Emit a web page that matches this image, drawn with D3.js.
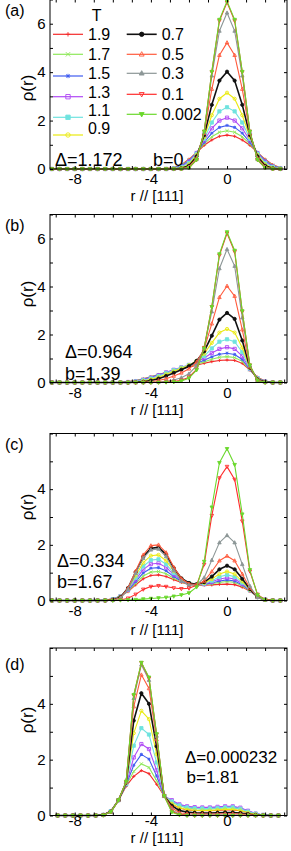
<!DOCTYPE html>
<html>
<head>
<meta charset="utf-8">
<script src="https://cdn.jsdelivr.net/npm/d3@7"></script>
<style>
  body { margin: 0; background: #fff; }
  svg { display: block; }
  text { font-family: "Liberation Sans", Arial, sans-serif; fill: #000; }
</style>
</head>
<body>
<div id="chart"></div>
<script>
// temperatures in the legend, in drawing order
const temps = ["1.9", "1.7", "1.5", "1.3", "1.1", "0.9", "0.7", "0.5", "0.3", "0.1", "0.002"];
const colors = ["#f42a2a", "#8ee85a", "#3f5cf0", "#b04af5", "#6fe3df", "#eaea10", "#111111", "#ff5a3c", "#8c9696", "#ff2b2b", "#6ad82c"];
const markers = ["plus", "cross", "star", "squareOpen", "square", "circleOpen", "circle", "triUpOpen", "triUp", "triDownOpen", "triDown"];

// r // [111] sample points
const rGridABC = [-9.2, -8.8, -8.4, -8.0, -7.6, -7.2, -6.8, -6.4, -6.0, -5.6, -5.2, -4.8, -4.4, -4.0, -3.6, -3.2, -2.8, -2.4, -2.0, -1.6, -1.2, -0.8, -0.4, 0, 0.4, 0.8, 1.2, 1.6, 2.0, 2.4, 2.8];
const rGridD = [-8.9, -8.5, -8.1, -7.7, -7.3, -6.9, -6.5, -6.1, -5.7, -5.3, -4.9, -4.5, -4.1, -3.7, -3.3, -2.9, -2.5, -2.1, -1.7, -1.3, -0.9, -0.5, -0.1, 0.3, 0.7, 1.1, 1.5, 1.9, 2.3, 2.7];

// rho(r), one row per temperature
const rhoA = [
  [0,0,0,0,0,0,0,0,0,0,0,0,0,0, 0,.02,.06,.18,.40,.68,.98,1.20,1.35,1.40,1.35,1.20,.98,.68,.40,.18,.06],
  [0,0,0,0,0,0,0,0,0,0,0,0,0,0, 0,.01,.05,.15,.37,.68,1.04,1.33,1.52,1.58,1.52,1.33,1.04,.68,.37,.15,.05],
  [0,0,0,0,0,0,0,0,0,0,0,0,0,0, 0,.01,.04,.13,.34,.68,1.10,1.48,1.72,1.80,1.72,1.48,1.10,.68,.34,.13,.04],
  [0,0,0,0,0,0,0,0,0,0,0,0,0,0, 0,0,.03,.10,.30,.66,1.18,1.68,2.00,2.12,2.00,1.68,1.18,.66,.30,.10,.03],
  [0,0,0,0,0,0,0,0,0,0,0,0,0,0, 0,0,.02,.08,.25,.63,1.25,1.92,2.38,2.55,2.38,1.92,1.25,.63,.25,.08,.02],
  [0,0,0,0,0,0,0,0,0,0,0,0,0,0, 0,0,.01,.05,.19,.58,1.32,2.22,2.90,3.15,2.90,2.22,1.32,.58,.19,.05,.01],
  [0,0,0,0,0,0,0,0,0,0,0,0,0,0, 0,0,0,.03,.13,.52,1.40,2.65,3.65,4.02,3.65,2.65,1.40,.52,.13,.03,0],
  [0,0,0,0,0,0,0,0,0,0,0,0,0,0, 0,0,0,.01,.09,.45,1.48,3.30,4.70,5.22,4.70,3.30,1.48,.45,.09,.01,0],
  [0,0,0,0,0,0,0,0,0,0,0,0,0,0, 0,0,0,.01,.06,.40,1.52,3.85,5.70,6.45,5.70,3.85,1.52,.40,.06,.01,0],
  [0,0,0,0,0,0,0,0,0,0,0,0,0,0, 0,0,0,0,.05,.38,1.55,4.00,6.12,6.88,6.12,4.00,1.55,.38,.05,0,0],
  [0,0,0,0,0,0,0,0,0,0,0,0,0,0, 0,0,0,0,.05,.38,1.55,4.02,6.17,6.93,6.17,4.02,1.55,.38,.05,0,0]
];

const rhoB = [
  [0,0,0,0,0,0,0,0,0,0, .04,.08,.15,.24,.33,.42,.50,.57,.64,.72,.80,.87,.92,.94,.92,.80,.52,.22,.06,.01,0],
  [0,0,0,0,0,0,0,0,0,0, .03,.07,.14,.23,.33,.42,.51,.59,.67,.76,.86,.97,1.05,1.08,1.04,.88,.53,.20,.05,.01,0],
  [0,0,0,0,0,0,0,0,0,0, .02,.06,.13,.22,.32,.42,.52,.61,.70,.80,.93,1.07,1.18,1.22,1.17,.96,.54,.19,.04,.01,0],
  [0,0,0,0,0,0,0,0,0,0, .02,.05,.11,.20,.30,.42,.53,.63,.73,.85,1.02,1.23,1.40,1.47,1.40,1.10,.56,.18,.04,0,0],
  [0,0,0,0,0,0,0,0,0,0, .01,.04,.09,.17,.27,.39,.51,.62,.73,.88,1.10,1.42,1.70,1.80,1.70,1.26,.58,.17,.03,0,0],
  [0,0,0,0,0,0,0,0,0,0, 0,.02,.06,.13,.22,.34,.47,.59,.72,.90,1.20,1.65,2.08,2.23,2.08,1.45,.60,.15,.02,0,0],
  [0,0,0,0,0,0,0,0,0,0, 0,.01,.03,.08,.16,.27,.40,.53,.68,.90,1.30,1.95,2.62,2.90,2.65,1.75,.62,.13,.02,0,0],
  [0,0,0,0,0,0,0,0,0,0, 0,0,.01,.03,.08,.16,.27,.40,.57,.85,1.40,2.45,3.55,4.02,3.60,2.20,.65,.11,.01,0,0],
  [0,0,0,0,0,0,0,0,0,0, 0,0,0,.01,.02,.05,.10,.20,.36,.70,1.45,2.95,4.75,5.55,4.85,2.70,.70,.09,.01,0,0],
  [0,0,0,0,0,0,0,0,0,0, 0,0,0,0,.01,.02,.04,.09,.22,.55,1.45,3.15,5.30,6.22,5.45,2.95,.72,.08,0,0,0],
  [0,0,0,0,0,0,0,0,0,0, 0,0,0,0,0,.01,.02,.06,.18,.52,1.42,3.15,5.35,6.27,5.50,2.98,.72,.08,0,0,0]
];

const rhoC = [
  [0,0,0,0,0,0,0, .02,.06,.15,.32,.56,.78,.90,.92,.86,.75,.65,.58,.55,.55,.56,.58,.59,.57,.48,.33,.15,.05,.01,0],
  [0,0,0,0,0,0,0, .02,.06,.15,.34,.62,.88,1.02,1.04,.96,.80,.67,.59,.56,.57,.60,.65,.68,.65,.53,.35,.15,.04,.01,0],
  [0,0,0,0,0,0,0, .02,.05,.15,.36,.68,.99,1.16,1.18,1.07,.86,.69,.60,.57,.58,.63,.70,.74,.70,.56,.36,.14,.04,.01,0],
  [0,0,0,0,0,0,0, .01,.05,.15,.38,.75,1.12,1.31,1.34,1.19,.93,.72,.61,.57,.59,.67,.77,.82,.77,.60,.37,.14,.03,0,0],
  [0,0,0,0,0,0,0, .01,.04,.14,.40,.82,1.23,1.45,1.48,1.30,.99,.74,.62,.58,.61,.71,.85,.92,.85,.64,.38,.13,.03,0,0],
  [0,0,0,0,0,0,0, .01,.03,.13,.42,.90,1.36,1.61,1.64,1.43,1.06,.77,.63,.58,.63,.77,.95,1.04,.95,.69,.39,.13,.02,0,0],
  [0,0,0,0,0,0,0, 0,.02,.12,.45,1.02,1.57,1.88,1.91,1.65,1.17,.80,.63,.58,.66,.86,1.12,1.25,1.12,.78,.41,.12,.02,0,0],
  [0,0,0,0,0,0,0, 0,.02,.10,.45,1.06,1.64,1.97,2.00,1.72,1.20,.79,.60,.56,.70,1.04,1.43,1.60,1.43,.95,.45,.12,.02,0,0],
  [0,0,0,0,0,0,0, 0,.01,.08,.40,.98,1.52,1.82,1.85,1.58,1.08,.70,.55,.56,.82,1.45,2.08,2.34,2.08,1.30,.52,.11,.01,0,0],
  [0,0,0,0,0,0,0, 0,.01,.02,.08,.22,.40,.50,.53,.50,.45,.42,.44,.55,1.30,3.05,4.40,4.81,4.35,2.85,1.05,.22,.03,0,0],
  [0,0,0,0,0,0,0, 0,0,.01,.02,.03,.05,.07,.09,.11,.15,.20,.27,.48,1.40,3.35,4.95,5.45,4.88,3.10,1.10,.20,.02,0,0]
];

const rhoD = [
  [0,0,0,0,0,0, .03,.17,.55,1.05,1.40,1.61,1.50,1.12,.70, .40,.27,.20,.18,.17,.17,.18,.20,.20,.17,.11,.05,.02,0, 0],
  [0,0,0,0,0,0, .03,.16,.55,1.08,1.58,1.85,1.72,1.25,.70, .48,.34,.27,.24,.23,.23,.25,.27,.27,.23,.14,.06,.02,0, 0],
  [0,0,0,0,0,0, .02,.16,.55,1.10,1.80,2.19,2.02,1.42,.70, .52,.38,.31,.28,.27,.27,.29,.31,.31,.26,.16,.07,.02,0, 0],
  [0,0,0,0,0,0, .02,.15,.55,1.12,2.08,2.56,2.38,1.62,.70, .55,.40,.33,.30,.29,.29,.31,.33,.33,.28,.17,.07,.02,0, 0],
  [0,0,0,0,0,0, .02,.15,.55,1.14,2.50,3.13,2.90,1.90,.70, .50,.36,.29,.26,.25,.25,.27,.29,.29,.24,.14,.06,.02,0, 0],
  [0,0,0,0,0,0, .02,.14,.55,1.16,2.95,3.75,3.45,2.20,.70, .42,.28,.21,.19,.18,.18,.20,.22,.22,.18,.10,.04,.01,0, 0],
  [0,0,0,0,0,0, .02,.14,.55,1.18,3.40,4.38,4.00,2.48,.70, .35,.18,.12,.10,.09,.09,.10,.11,.11,.09,.05,.02,0,0, 0],
  [0,0,0,0,0,0, .01,.13,.55,1.20,3.90,5.04,4.55,2.72,.70, .28,.10,.06,.05,.05,.05,.05,.06,.06,.05,.03,.01,0,0, 0],
  [0,0,0,0,0,0, .01,.13,.55,1.20,4.20,5.40,4.85,2.85,.70, .20,.05,.02,.02,.02,.02,.02,.02,.02,.02,.01,0,0,0, 0],
  [0,0,0,0,0,0, .01,.13,.55,1.21,4.30,5.47,4.92,2.90,.70, .15,.03,.01,0,0,0,0,0,0,0,0,0,0,0, 0],
  [0,0,0,0,0,0, .01,.13,.55,1.22,4.32,5.48,4.95,2.92,.70, .12,.02,0,0,0,0,0,0,0,0,0,0,0,0, 0]
];

const xTickLabels = [-8, -4, 0];

const panels = [
  { tag: "(a)", top: -0.5, bottom: 169, yMax: 7, yLabels: [0, 2, 4, 6], r: rGridABC, rho: rhoA,
    tagY: 16, yLabY: 88, xPad: 4, xLabY: 200.5,
    notes: [{ t: "Δ=1.172", x: 55, y: 166, fs: 18 }, { t: "b=0", x: 153, y: 166, fs: 18 }] },
  { tag: "(b)", top: 214.5, bottom: 382.5, yMax: 7, yLabels: [0, 2, 4, 6], r: rGridABC, rho: rhoB,
    tagY: 231, yLabY: 294, xPad: 5, xLabY: 415,
    notes: [{ t: "Δ=0.964", x: 65, y: 358, fs: 18 }, { t: "b=1.39", x: 65, y: 380, fs: 18 }] },
  { tag: "(c)", top: 433.5, bottom: 600.5, yMax: 6, yLabels: [0, 2, 4], r: rGridABC, rho: rhoC,
    tagY: 450, yLabY: 507, xPad: 5, xLabY: 634.5,
    notes: [{ t: "Δ=0.334", x: 57, y: 566.5, fs: 18 }, { t: "b=1.67", x: 57, y: 588, fs: 18 }] },
  { tag: "(d)", top: 648, bottom: 815.5, yMax: 6, yLabels: [0, 2, 4], r: rGridD, rho: rhoD,
    tagY: 670, yLabY: 720, xPad: 0, xLabY: 842.5,
    notes: [{ t: "Δ=0.000232", x: 185, y: 763, fs: 17 }, { t: "b=1.81", x: 186.5, y: 783, fs: 17 }] }
];

const width = 291;
const height = 851;
const font = '"Liberation Sans", Arial, sans-serif';

const svg = d3.select("#chart").append("svg")
  .attr("width", width)
  .attr("height", height);

const x = d3.scaleLinear().domain([-9.3, 3.15]).range([50, 287]);

function drawMarker(g, type, cx, cy, s, color) {
  let d, filled = false;
  const k = 0.75 * s;
  switch (type) {
    case "plus": d = `M${-s},0H${s}M0,${-s}V${s}`; break;
    case "cross": d = `M${-s},${-s}L${s},${s}M${-s},${s}L${s},${-s}`; break;
    case "star": d = `M${-s},0H${s}M0,${-s}V${s}M${-k},${-k}L${k},${k}M${-k},${k}L${k},${-k}`; break;
    case "squareOpen": d = `M${-s},${-s}H${s}V${s}H${-s}Z`; break;
    case "square": d = `M${-s},${-s}H${s}V${s}H${-s}Z`; filled = true; break;
    case "circleOpen": d = `M${s},0A${s},${s} 0 1,1 ${-s},0A${s},${s} 0 1,1 ${s},0Z`; break;
    case "circle": d = `M${s},0A${s},${s} 0 1,1 ${-s},0A${s},${s} 0 1,1 ${s},0Z`; filled = true; break;
    case "triUpOpen": d = `M0,${-1.2 * s}L${1.1 * s},${0.8 * s}L${-1.1 * s},${0.8 * s}Z`; break;
    case "triUp": d = `M0,${-1.2 * s}L${1.1 * s},${0.8 * s}L${-1.1 * s},${0.8 * s}Z`; filled = true; break;
    case "triDownOpen": d = `M0,${1.2 * s}L${1.1 * s},${-0.8 * s}L${-1.1 * s},${-0.8 * s}Z`; break;
    default: d = `M0,${1.2 * s}L${1.1 * s},${-0.8 * s}L${-1.1 * s},${-0.8 * s}Z`; filled = true;
  }
  g.append("path")
    .attr("transform", `translate(${cx},${cy})`)
    .attr("d", d)
    .attr("fill", filled ? color : "none")
    .attr("stroke", color)
    .attr("stroke-width", 0.9);
}

panels.forEach(p => {
  const y = d3.scaleLinear().domain([0, p.yMax]).range([p.bottom, p.top]);
  const g = svg.append("g");

  const line = d3.line()
    .x(d => x(d[0]))
    .y(d => y(d[1]));

  p.rho.forEach((vals, si) => {
    const pts = vals.map((v, i) => [p.r[i], v]);
    g.append("path")
      .datum(pts)
      .attr("d", line)
      .attr("fill", "none")
      .attr("stroke", colors[si])
      .attr("stroke-width", si === 6 ? 1.6 : 1.1)
      .attr("stroke-linejoin", "round");
    pts.forEach(d => drawMarker(g, markers[si], x(d[0]), y(d[1]), 1.6, colors[si]));
  });

  // frame
  g.append("rect")
    .attr("x", 50).attr("y", p.top)
    .attr("width", 237).attr("height", p.bottom - p.top)
    .attr("fill", "none").attr("stroke", "#000").attr("stroke-width", 1);

  const xTicks = d3.range(-9, 4);
  const yTicks = d3.range(0, p.yMax + 1);

  const bottomAxis = g.append("g")
    .attr("transform", `translate(0,${p.bottom})`)
    .call(d3.axisBottom(x).tickValues(xTicks).tickSizeInner(-3).tickSizeOuter(0).tickPadding(p.xPad)
      .tickFormat(d => xTickLabels.includes(d) ? d : ""));
  g.append("g")
    .attr("transform", `translate(0,${p.top})`)
    .call(d3.axisTop(x).tickValues(xTicks).tickSizeInner(-3).tickSizeOuter(0).tickFormat(""));
  const leftAxis = g.append("g")
    .attr("transform", "translate(50,0)")
    .call(d3.axisLeft(y).tickValues(yTicks).tickSizeInner(-3).tickSizeOuter(0).tickPadding(4.5)
      .tickFormat(d => p.yLabels.includes(d) ? d : ""));
  g.append("g")
    .attr("transform", "translate(287,0)")
    .call(d3.axisRight(y).tickValues(yTicks).tickSizeInner(-3).tickSizeOuter(0).tickFormat(""));

  g.selectAll(".domain").remove();
  g.selectAll(".tick line").attr("stroke", "#000");
  [bottomAxis, leftAxis].forEach(a => a.attr("font-size", 15).attr("font-family", font));
  g.selectAll(".tick text").attr("fill", "#000");

  g.append("text")
    .attr("x", 5).attr("y", p.tagY)
    .attr("font-size", 16)
    .text(p.tag);

  g.append("text")
    .attr("transform", `translate(33,${p.yLabY}) rotate(-90)`)
    .attr("text-anchor", "middle")
    .attr("font-size", 17)
    .text("ρ(r)");

  g.append("text")
    .attr("x", 157).attr("y", p.xLabY)
    .attr("text-anchor", "middle")
    .attr("font-size", 15)
    .text("r // [111]");

  p.notes.forEach(n => {
    g.append("text")
      .attr("x", n.x).attr("y", n.y)
      .attr("font-size", n.fs)
      .text(n.t);
  });
});

// legend, inside panel (a)
const legendRows = [
  { line: 34.3, text: 34.3, x1: 53, x2: 83, tx: 88 },
  { line: 54.3, text: 54.3, x1: 53, x2: 83, tx: 88 },
  { line: 76, text: 72.7, x1: 53, x2: 83, tx: 88 },
  { line: 96.7, text: 91.7, x1: 53, x2: 83, tx: 88 },
  { line: 117.3, text: 110, x1: 53, x2: 83, tx: 88 },
  { line: 135, text: 128.3, x1: 53, x2: 83, tx: 88 },
  { line: 34.3, text: 34.3, x1: 126.7, x2: 156.7, tx: 161.7 },
  { line: 54.3, text: 54.3, x1: 126.7, x2: 156.7, tx: 161.7 },
  { line: 73.3, text: 73.3, x1: 126.7, x2: 156.7, tx: 161.7 },
  { line: 94.3, text: 94.3, x1: 126.7, x2: 156.7, tx: 161.7 },
  { line: 114.3, text: 114.3, x1: 126.7, x2: 156.7, tx: 161.7 }
];

const legend = svg.append("g").attr("class", "legend");
legend.append("text")
  .attr("x", 96.7).attr("y", 20.5)
  .attr("text-anchor", "middle")
  .attr("font-size", 16)
  .text("T");

temps.forEach((t, i) => {
  const row = legendRows[i];
  legend.append("line")
    .attr("x1", row.x1).attr("x2", row.x2)
    .attr("y1", row.line).attr("y2", row.line)
    .attr("stroke", colors[i])
    .attr("stroke-width", i === 6 ? 1.6 : 1.2);
  drawMarker(legend, markers[i], (row.x1 + row.x2) / 2, row.line, 2.2, colors[i]);
  legend.append("text")
    .attr("x", row.tx).attr("y", row.text + 5.8)
    .attr("font-size", 16)
    .text(t);
});
</script>
</body>
</html>
